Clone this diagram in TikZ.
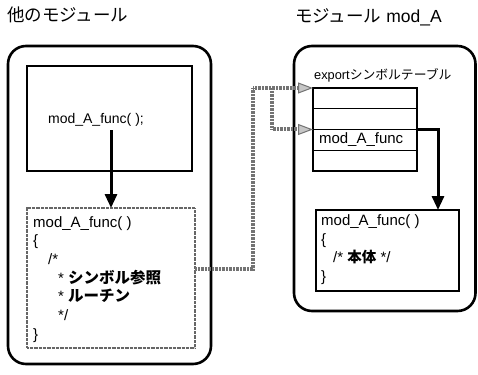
\documentclass[tikz,border=0pt]{standalone}
\usepackage{fontspec}
\setmainfont{Liberation Sans}
\newfontfamily\jpfont{Noto Sans CJK JP}
\usetikzlibrary{positioning,calc,arrows.meta}

\newcommand{\jp}[1]{{\jpfont #1}}

\begin{document}
\begin{tikzpicture}[x=1pt, y=-1pt,
    mod frame/.style={draw, line width=2.6pt, rounded corners=18pt},
    code box/.style={draw, line width=1.1pt, anchor=north west, outer sep=0pt},
    stipple box/.style={draw=black!60, line width=2.6pt, dash pattern=on 0.8pt off 0.5pt, anchor=north west, outer sep=0pt},
    code text/.style={anchor=north west, inner sep=0pt, align=left, font=\fontsize{15}{18.7}\selectfont},
    tab row/.style={draw, line width=1.1pt, outer sep=0pt, inner xsep=6pt, text width=92pt, minimum height=20.75pt, align=left, font=\fontsize{15}{16}\selectfont},
    title/.style={anchor=west, inner sep=0pt, font=\fontsize{17.5}{20}\selectfont},
    call arrow/.style={line width=3pt, -{Triangle[length=14pt,width=12pt]}},
    link band/.style={draw=black!55, line width=4pt, dash pattern=on 0.8pt off 0.6pt, -{Triangle[length=15pt,width=11pt,fill=gray!45,color=black!55,line width=1pt]}}]

    \useasboundingbox (0,0) rectangle (478,374);

    % calling side
    \node[title] (othertitle) at (7,15) {\jp{他のモジュール}};
    \draw[mod frame] (8,46) rectangle (211,364);
    \node[code box, minimum width=165pt, minimum height=105pt] (callsite) at (27,66) {};
    \node[font=\fontsize{14}{16}\selectfont] (calltext) at (96,120) {mod\_A\_func( );};
    \node[stipple box, minimum width=168pt, minimum height=140pt] (callerfn) at (27,208) {};
    \node[code text, below right=8pt and 6pt of callerfn.north west] (callerbody)
        {mod\_A\_func( )\\
         \{\\
         \hspace*{15pt}/*\\
         \hspace*{25pt}* \jp{\fontsize{15.5}{18.7}\selectfont\bfseries シンボル参照}\\
         \hspace*{25pt}* \jp{\fontsize{15.5}{18.7}\selectfont\bfseries ルーチン}\\
         \hspace*{25pt}*/\\
         \}};

    % module mod_A
    \node[title] (modtitle) at (295,17) {\jp{モジュール} mod\_A};
    \draw[mod frame] (294,46) rectangle (475.5,311);
    \node[anchor=south west, inner sep=0pt, font=\fontsize{12.8}{14}\selectfont] (tablabel) at (314,82)
        {export\jp{シンボルテーブル}};
    \node[tab row, anchor=north west] (row1) at (313,88) {};
    \node[tab row, below=0pt of row1] (row2) {};
    \node[tab row, below=0pt of row2] (row3) {mod\_A\_func};
    \node[tab row, below=0pt of row3] (row4) {};
    \node[code box, minimum width=143pt, minimum height=81pt] (calleefn) at (316,210) {};
    \node[code text, below right=4.5pt and 5pt of calleefn.north west] (calleebody)
        {mod\_A\_func( )\\
         \{\\
         \hspace*{12pt}/* \jp{\fontsize{14.5}{18.7}\selectfont\bfseries 本体} */\\
         \}};

    % links into the export table
    \draw[link band] ([yshift=9pt]callerfn.east) -| ([xshift=-60pt]row1.north west) -- (row1.north west);
    \draw[link band] ([xshift=-41pt]row1.north west) |- (row3.north west);

    % calls
    \draw[call arrow] (calltext.south -| callerfn.north) -- (callerfn.north);
    \draw[call arrow] (row3.north east) -| ([xshift=-21pt]calleefn.north east);

\end{tikzpicture}
\end{document}
